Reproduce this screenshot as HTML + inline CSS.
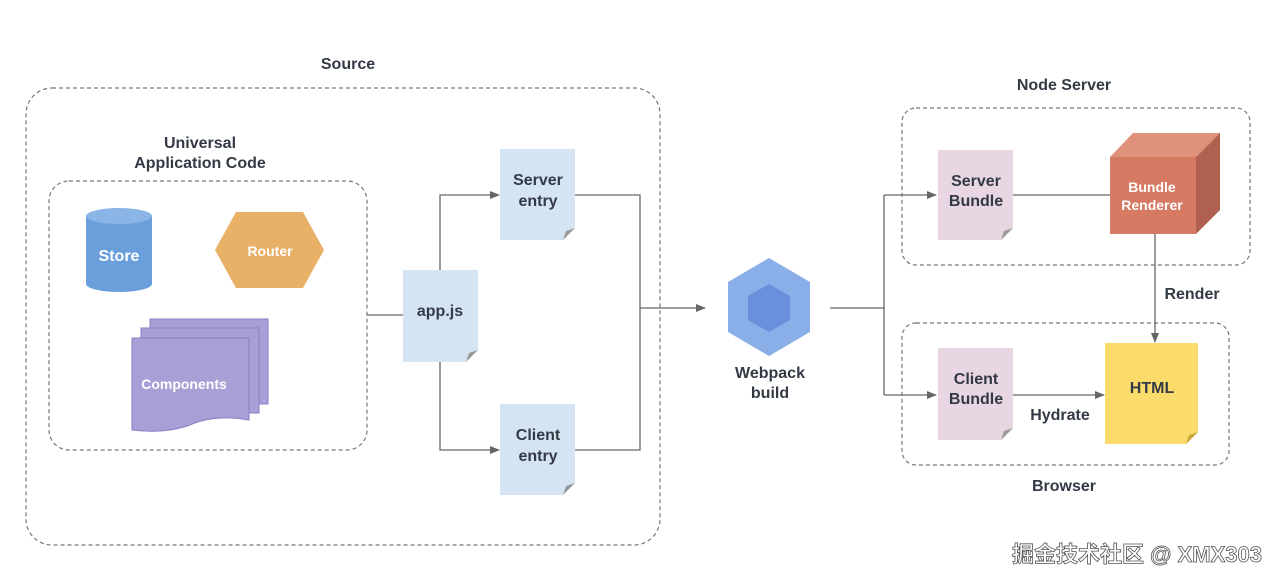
<!DOCTYPE html>
<html><head><meta charset="utf-8"><style>
html,body{margin:0;padding:0;background:#fff;}
svg{display:block;}
text{font-family:"Liberation Sans","Noto Sans CJK SC",sans-serif;font-weight:bold;}
</style></head><body>
<svg width="1280" height="586" viewBox="0 0 1280 586" xmlns="http://www.w3.org/2000/svg">
<defs>
<marker id="ar" markerWidth="10" markerHeight="8" refX="9" refY="4" orient="auto" markerUnits="userSpaceOnUse">
<path d="M0,0 L10,4 L0,8 z" fill="#666"/></marker>
</defs>
<g fill="none" stroke="#777" stroke-width="1.2" stroke-dasharray="4,3">
<rect x="26" y="88" width="634" height="457" rx="26"/>
<rect x="49" y="181" width="318" height="269" rx="20"/>
<rect x="902" y="108" width="348" height="157" rx="14"/>
<rect x="902" y="323" width="327" height="142" rx="14"/>
</g>
<g fill="#333a45" font-size="16" text-anchor="middle">
<text x="348" y="69">Source</text>
<text x="200" y="148">Universal</text>
<text x="200" y="168">Application Code</text>
<text x="1064" y="90">Node Server</text>
<text x="1064" y="491">Browser</text>
<text x="1192" y="299">Render</text>
<text x="1060" y="420">Hydrate</text>
<text x="770" y="378">Webpack</text>
<text x="770" y="398">build</text>
</g>
<!-- connectors -->
<g stroke="#666" stroke-width="1.3" fill="none">
<path d="M367,315 H403"/>
<path d="M440,270 V195 H499" marker-end="url(#ar)"/>
<path d="M440,362 V450 H499" marker-end="url(#ar)"/>
<path d="M575,195 H640 V450 H575"/>
<path d="M640,308 H705" marker-end="url(#ar)"/>
<path d="M830,308 H884"/>
<path d="M884,195 V308 V395"/>
<path d="M884,195 H936" marker-end="url(#ar)"/>
<path d="M884,395 H936" marker-end="url(#ar)"/>
<path d="M1013,195 H1110"/>
<path d="M1155,234 V342" marker-end="url(#ar)"/>
<path d="M1013,395 H1104" marker-end="url(#ar)"/>
</g>
<!-- store -->
<path d="M86,216 V284 A33,8 0 0 0 152,284 V216 Z" fill="#6b9fdb"/>
<ellipse cx="119" cy="216" rx="33" ry="8" fill="#8ab5e6"/>
<text x="119" y="261" fill="#fff" font-size="16" text-anchor="middle">Store</text>
<!-- router -->
<polygon points="215,250 236,212 303,212 324,250 303,288 236,288" fill="#e9b068"/>
<text x="270" y="256" fill="#fff" font-size="14" text-anchor="middle">Router</text>
<!-- components -->
<g fill="#a99fd6" stroke="#8a7fc4" stroke-width="1">
<rect x="150" y="319" width="118" height="85"/>
<rect x="141" y="328" width="118" height="85"/>
<path d="M132,338 H249 V420 Q215,414 190,425 Q165,434 132,430 Z"/>
</g>
<text x="184" y="389" fill="#fff" font-size="14" text-anchor="middle">Components</text>
<!-- docs -->
<g>
<path d="M403,270 H478 V350 L466,362 H403 Z" fill="#d4e4f3"/><path d="M478,350 L466,362 L469,353 Z" fill="#999"/>
<path d="M500,149 H575 V228 L563,240 H500 Z" fill="#d4e4f3"/><path d="M575,228 L563,240 L566,231 Z" fill="#999"/>
<path d="M500,404 H575 V483 L563,495 H500 Z" fill="#d4e4f3"/><path d="M575,483 L563,495 L566,486 Z" fill="#999"/>
<path d="M938,150 H1013 V228 L1001,240 H938 Z" fill="#e8d6e3"/><path d="M1013,228 L1001,240 L1004,231 Z" fill="#999"/>
<path d="M938,348 H1013 V428 L1001,440 H938 Z" fill="#e8d6e3"/><path d="M1013,428 L1001,440 L1004,431 Z" fill="#999"/>
<path d="M1105,343 H1198 V432 L1186,444 H1105 Z" fill="#fbdb6c"/><path d="M1198,432 L1186,444 L1189,435 Z" fill="#c9a93a"/>
</g>
<g fill="#333a45" font-size="16" text-anchor="middle">
<text x="440" y="316">app.js</text>
<text x="538" y="185">Server</text><text x="538" y="206">entry</text>
<text x="538" y="440">Client</text><text x="538" y="461">entry</text>
<text x="976" y="186">Server</text><text x="976" y="206">Bundle</text>
<text x="976" y="384">Client</text><text x="976" y="404">Bundle</text>
<text x="1152" y="393">HTML</text>
</g>
<!-- webpack -->
<polygon points="769,258 810,282 810,332 769,356 728,332 728,282" fill="#8aaee8"/>
<polygon points="769,284 790,296 790,320 769,332 748,320 748,296" fill="#6a90dc"/>
<!-- cube -->
<polygon points="1110,157 1133,133 1220,133 1196,157" fill="#e0917b"/>
<polygon points="1196,157 1220,133 1220,210 1196,234" fill="#b0604f"/>
<rect x="1110" y="157" width="86" height="77" fill="#d77a63"/>
<text x="1152" y="192" fill="#fff" font-size="14" text-anchor="middle">Bundle</text>
<text x="1152" y="210" fill="#fff" font-size="14" text-anchor="middle">Renderer</text>
<text x="1262" y="562" fill="#fff" stroke="#555" stroke-width="0.8" font-size="22" font-weight="normal" text-anchor="end">掘金技术社区 @ XMX303</text>
</svg>
</body></html>
